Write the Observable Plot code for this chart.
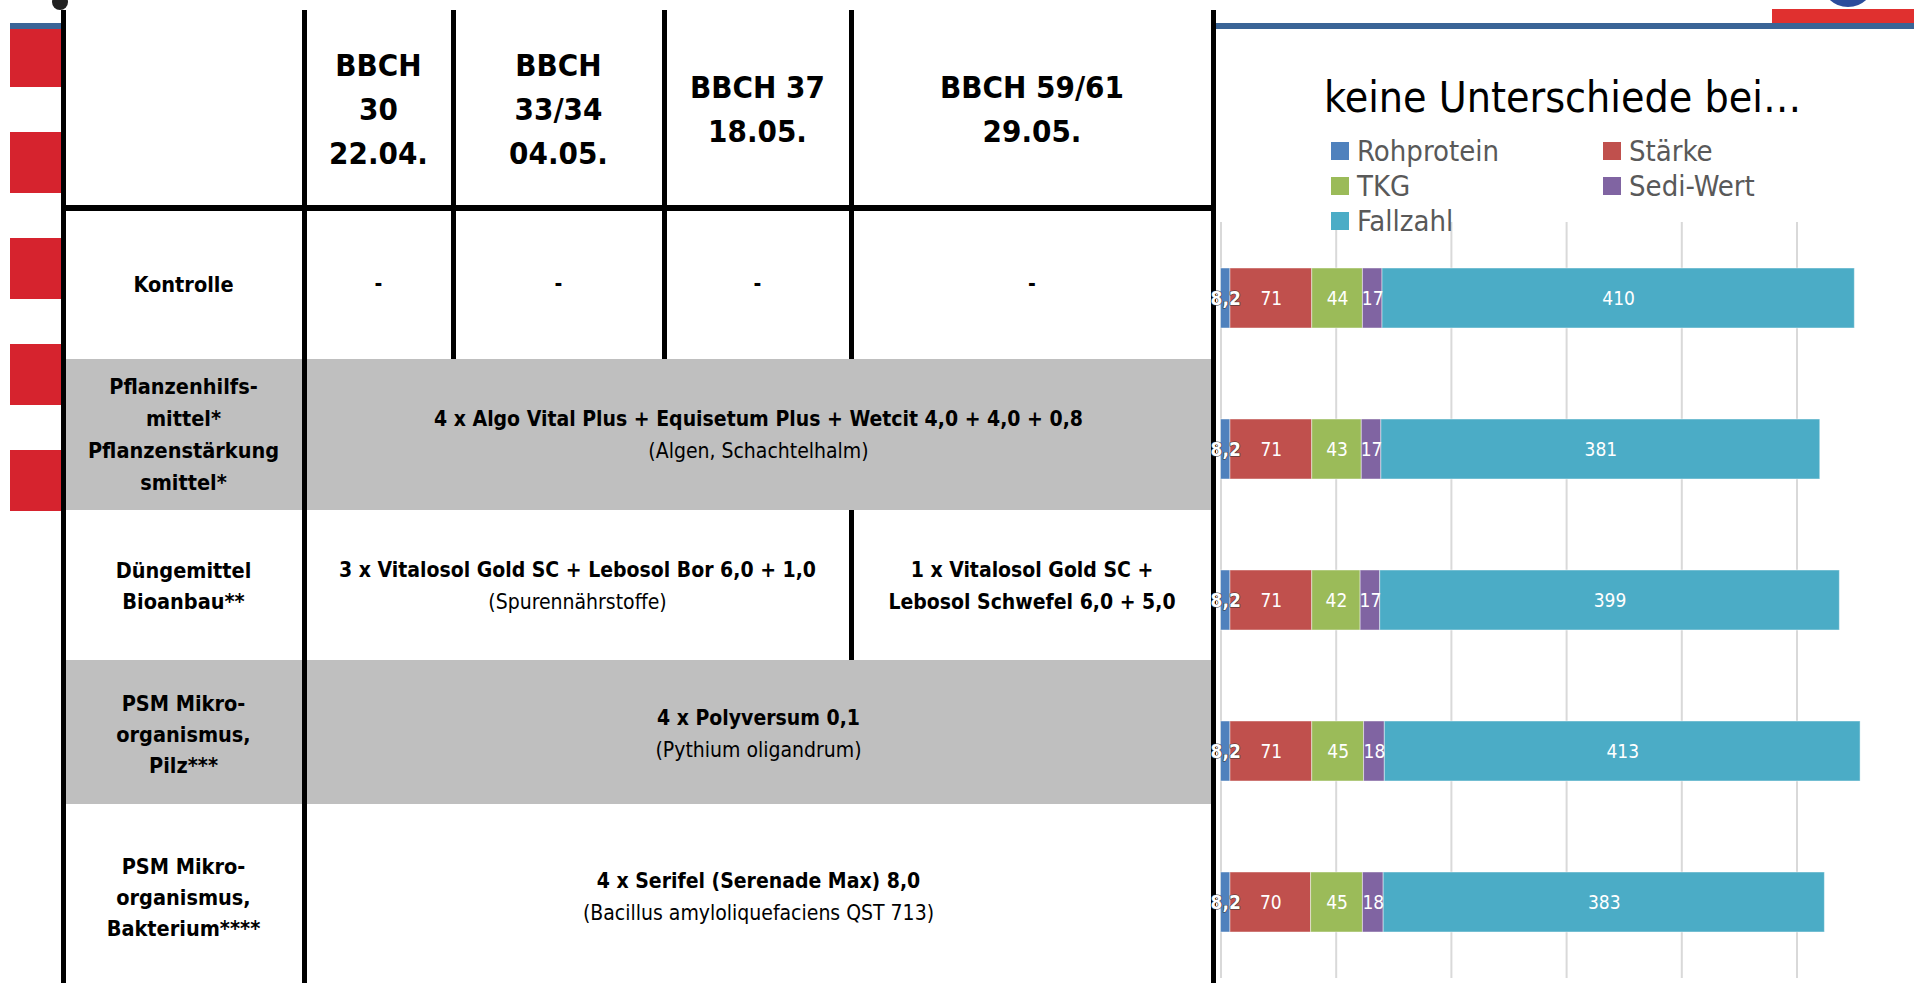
<!DOCTYPE html>
<html>
<head>
<meta charset="utf-8">
<script src="https://cdn.jsdelivr.net/npm/d3@7"></script>
<script src="https://cdn.jsdelivr.net/npm/@observablehq/plot@0.6"></script>
<style>
  html, body { margin: 0; padding: 0; background: #fff; }
  #page { position: relative; width: 1914px; height: 983px; overflow: hidden; background: #fff;
          font-family: "DejaVu Sans Condensed", "Liberation Sans Narrow", "Liberation Sans", sans-serif; }
  .abs { position: absolute; }
  .txt { position: absolute; transform: translate(-50%, -50%); text-align: center; white-space: nowrap; color: #000; }
</style>
</head>
<body>
<div id="page"></div>
<script>
// ---------------- data ----------------
const treatments = ["Kontrolle", "Pflanzenhilfsmittel", "Düngemittel", "PSM Pilz", "PSM Bakterium"];
const components = ["Rohprotein", "Stärke", "TKG", "Sedi-Wert", "Fallzahl"];
const rohprotein = [8.2, 8.2, 8.2, 8.2, 8.2];
const staerke    = [71, 71, 71, 71, 70];
const tkg        = [44, 43, 42, 45, 45];
const sediWert   = [17, 17, 17, 18, 18];
const fallzahl   = [410, 381, 399, 413, 383];
const xTicks     = [0, 100, 200, 300, 400, 500];
const componentColors = ["#4f81bd", "#c0504d", "#9bbb59", "#8064a2", "#4bacc6"];

const chartTitle = "keine Unterschiede bei…";

const tableHeader = ["", "BBCH\n30\n22.04.", "BBCH\n33/34\n04.05.", "BBCH 37\n18.05.", "BBCH 59/61\n29.05."];
const rowLabels = [
  "Kontrolle",
  "Pflanzenhilfs-\nmittel*\nPflanzenstärkung\nsmittel*",
  "Düngemittel\nBioanbau**",
  "PSM Mikro-\norganismus,\nPilz***",
  "PSM Mikro-\norganismus,\nBakterium****"
];
const treatmentCells = [
  [{span: [1, 2], main: "-"}, {span: [2, 3], main: "-"}, {span: [3, 4], main: "-"}, {span: [4, 5], main: "-"}],
  [{span: [1, 5], main: "4 x Algo Vital Plus + Equisetum Plus + Wetcit 4,0 + 4,0 + 0,8", sub: "(Algen, Schachtelhalm)"}],
  [{span: [1, 4], main: "3 x Vitalosol Gold SC + Lebosol Bor 6,0 + 1,0", sub: "(Spurennährstoffe)"},
   {span: [4, 5], main: "1 x Vitalosol Gold SC +\nLebosol Schwefel 6,0 + 5,0"}],
  [{span: [1, 5], main: "4 x Polyversum 0,1", sub: "(Pythium oligandrum)"}],
  [{span: [1, 5], main: "4 x Serifel (Serenade Max) 8,0", sub: "(Bacillus amyloliquefaciens QST 713)"}]
];
const greyRows = [1, 3]; // body row indices with grey fill

// ---------------- layout (page pixels) ----------------
const colEdges = [63, 304, 453, 664, 851, 1213];
const rowEdges = [10, 208, 359, 510, 660, 804, 983];
const rowTextY = [109, 284, 435, 586, 734, 897];
const FONT = '"DejaVu Sans Condensed", "Liberation Sans Narrow", "Liberation Sans", sans-serif';

const page = document.getElementById("page");
function box(x, y, w, h, color, extra = "") {
  const d = document.createElement("div");
  d.className = "abs";
  d.style.cssText = `left:${x}px;top:${y}px;width:${w}px;height:${h}px;background:${color};${extra}`;
  page.appendChild(d);
  return d;
}
function text(lines, cx, cy, size, lh, weights) {
  const d = document.createElement("div");
  d.className = "txt";
  d.style.left = cx + "px";
  d.style.top = cy + "px";
  d.style.fontSize = size + "px";
  d.style.lineHeight = lh + "px";
  lines.forEach((l, i) => {
    const s = document.createElement("div");
    s.textContent = l;
    s.style.fontWeight = weights[i] || "bold";
    d.appendChild(s);
  });
  page.appendChild(d);
  return d;
}

// slide decorations
[[23, 87], [132, 193], [238, 299], [344, 405], [450, 511]].forEach(([a, b]) => box(10, a, 51, b - a, "#d6232e"));
box(10, 23, 51, 6, "#3a6496");
box(1215, 23, 699, 6, "#3a6496");
box(1772, 9, 142, 14, "#e0302f");
box(1821, -47, 54, 54, "#2b4c9c", "border-radius:50%;");
box(52, -6, 16, 16, "#222", "border-radius:50%;");

// grey rows
greyRows.forEach(r => {
  const y0 = rowEdges[r + 1], y1 = rowEdges[r + 2];
  box(colEdges[0], y0, colEdges[5] - colEdges[0], y1 - y0, "#bfbfbf");
});

// vertical lines from cell spans
function vline(x, y0, y1) { box(x - 2.5, y0, 5, y1 - y0, "#000"); }
tableHeader.forEach((_, c) => { vline(colEdges[c], rowEdges[0], rowEdges[1]); vline(colEdges[c + 1], rowEdges[0], rowEdges[1]); });
treatmentCells.forEach((cells, r) => {
  const y0 = rowEdges[r + 1], y1 = rowEdges[r + 2];
  vline(colEdges[0], y0, y1);
  cells.forEach(c => { vline(colEdges[c.span[0]], y0, y1); vline(colEdges[c.span[1]], y0, y1); });
});
// header rule
box(colEdges[0] - 2.5, rowEdges[1] - 3, colEdges[5] - colEdges[0] + 5, 6, "#000");

// header text
tableHeader.forEach((t, c) => {
  if (!t) return;
  const lines = t.split("\n");
  text(lines, (colEdges[c] + colEdges[c + 1]) / 2, rowTextY[0], 31, 44, lines.map(() => "bold"));
});
// row labels
rowLabels.forEach((t, r) => {
  const lines = t.split("\n");
  const lh = lines.length > 3 ? 32 : 31;
  text(lines, (colEdges[0] + colEdges[1]) / 2, rowTextY[r + 1], 21.5, lh, lines.map(() => "bold"));
});
// treatment cells
treatmentCells.forEach((cells, r) => {
  cells.forEach(c => {
    const lines = c.main.split("\n");
    const weights = lines.map(() => "bold");
    if (c.sub) { lines.push(c.sub); weights.push("normal"); }
    text(lines, (colEdges[c.span[0]] + colEdges[c.span[1]]) / 2, rowTextY[r + 1], 21, 32, weights);
  });
});

// ---------------- chart (Observable Plot) ----------------
const series = [rohprotein, staerke, tkg, sediWert, fallzahl];
const data = [];
treatments.forEach((t, i) => {
  components.forEach((c, j) => data.push({treatment: t, component: c, value: series[j][i]}));
});
const fmt = v => String(v).replace(".", ",");

const chart = Plot.plot({
  width: 714,
  height: 761,
  marginLeft: 20.5,
  marginRight: 2.3,
  marginTop: 0,
  marginBottom: 5,
  style: {background: "transparent", overflow: "visible", fontFamily: FONT},
  x: {domain: [0, 600], axis: null},
  y: {domain: treatments, axis: null, paddingInner: 0.6, paddingOuter: 0.3},
  color: {domain: components, range: componentColors},
  marks: [
    Plot.ruleX(xTicks, {stroke: "#d9d9d9", strokeWidth: 2, strokeOpacity: 1}),
    Plot.barX(data, Plot.stackX({x: "value", y: "treatment", fill: "component", order: null,
      stroke: "#ffffff", strokeOpacity: 0.45, strokeWidth: 1})),
    Plot.text(data, Plot.stackX({x: "value", y: "treatment", order: null,
      text: d => d.component === "Rohprotein" ? null : fmt(d.value),
      fill: "white", fontSize: 19, fontFamily: FONT})),
    Plot.text(data, Plot.stackX({x: "value", y: "treatment", order: null,
      text: d => d.component === "Rohprotein" ? fmt(d.value) : null,
      fill: "white", stroke: "#333", strokeWidth: 1.2, paintOrder: "stroke",
      fontSize: 19, fontWeight: "bold", fontFamily: FONT}))
  ]
});
const holder = document.createElement("div");
holder.className = "abs";
holder.style.cssText = "left:1200px;top:222px;";
holder.appendChild(chart);
page.appendChild(holder);

// ---------------- chart title + legend (HTML, above the SVG) ----------------
const title = document.createElement("div");
title.className = "abs";
title.style.cssText = `left:1324px;top:97px;transform:translateY(-50%);font-size:42.5px;color:#000;white-space:nowrap;font-family:${FONT};`;
title.textContent = chartTitle;
page.appendChild(title);

const legendPos = [[1331, 151], [1603, 151], [1331, 186], [1603, 186], [1331, 221]];
components.forEach((name, i) => {
  const [lx, ly] = legendPos[i];
  box(lx, ly - 9, 18, 18, componentColors[i]);
  const t = document.createElement("div");
  t.className = "abs";
  t.style.cssText = `left:${lx + 26}px;top:${ly}px;transform:translateY(-50%);font-size:29px;color:#595959;white-space:nowrap;font-family:${FONT};`;
  t.textContent = name;
  page.appendChild(t);
});
</script>
</body>
</html>
